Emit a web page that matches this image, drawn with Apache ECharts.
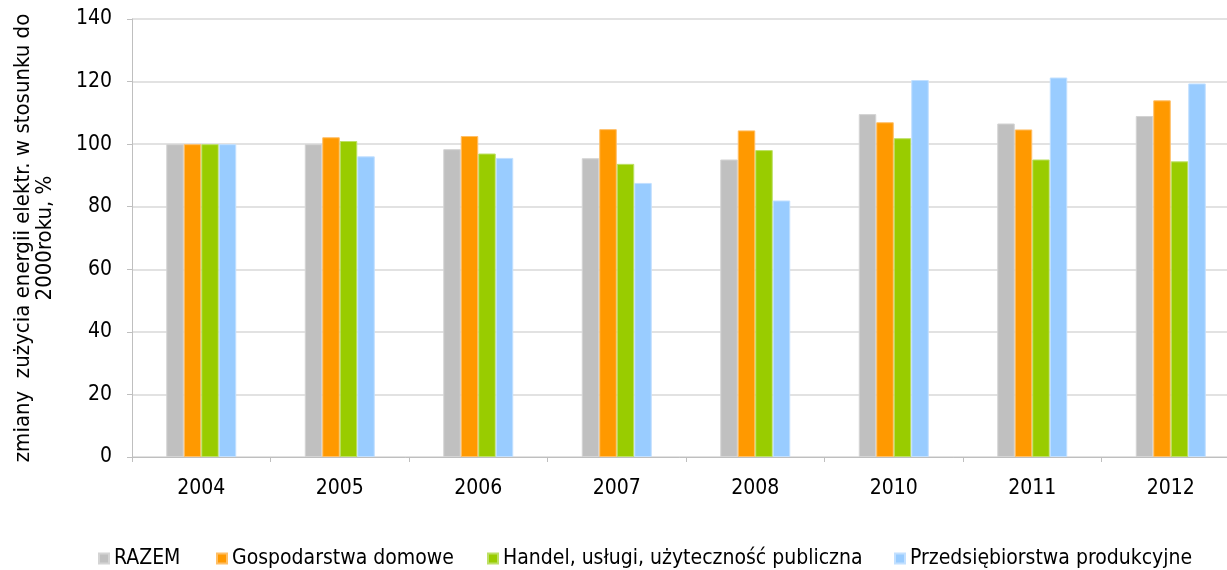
<!DOCTYPE html>
<html>
<head>
<meta charset="utf-8">
<script src="https://cdn.jsdelivr.net/npm/echarts@6/dist/echarts.min.js"></script>
<style>
html,body{margin:0;padding:0;background:#fff;}
#chart{width:1227px;height:570px;}
</style>
</head>
<body>
<div id="chart"></div>
<script>
const categories = ['2004','2005','2006','2007','2008','2010','2011','2012'];
const razem = [100, 100, 98.4, 95.5, 95.1, 109.6, 106.6, 109.0];
const gospodarstwa = [100, 102.2, 102.6, 104.8, 104.4, 107.0, 104.7, 114.0];
const handel = [100, 101.0, 97.0, 93.7, 98.1, 101.9, 95.1, 94.5];
const przedsiebiorstwa = [100, 96.1, 95.6, 87.6, 82.0, 120.5, 121.3, 119.4];
const seriesNames = ['RAZEM','Gospodarstwa domowe','Handel, usługi, użyteczność publiczna','Przedsiębiorstwa produkcyjne'];
const yTicks = [0,20,40,60,80,100,120,140];

const FONT = 'DejaVu Sans Condensed';
const colors = ['#c0c0c0','#ff9900','#99cc00','#99ccff'];
const borders = ['#d4d4d4','#ffbf66','#bde066','#c2e0ff'];
const dataSets = [razem, gospodarstwa, handel, przedsiebiorstwa];
const legendLefts = [98, 216, 487, 894];

const chart = echarts.init(document.getElementById('chart'));
chart.setOption({
  animation: false,
  color: colors,
  textStyle: {fontFamily: FONT},
  grid: {left: 132, right: -13, top: 19, bottom: 113, containLabel: false, outerBoundsMode: 'none'},
  legend: seriesNames.map((n, i) => ({
    left: legendLefts[i], top: 548, padding: 0,
    itemWidth: 10, itemHeight: 10,
    icon: 'rect',
    textStyle: {fontFamily: FONT, fontSize: 21, color: '#000'},
    data: [n]
  })),
  xAxis: {
    type: 'category',
    data: categories,
    axisLine: {lineStyle: {color: '#bfbfbf', width: 1}},
    axisTick: {show: true, length: 5, lineStyle: {color: '#bfbfbf'}},
    axisLabel: {fontFamily: FONT, fontSize: 21, color: '#000', margin: 21}
  },
  yAxis: {
    type: 'value',
    min: yTicks[0], max: yTicks[yTicks.length-1], interval: 20,
    name: 'zmiany  zużycia energii elektr. w stosunku do\n2000roku, %',
    nameLocation: 'middle',
    nameRotate: 90,
    nameGap: 76,
    nameTextStyle: {fontFamily: FONT, fontSize: 22, color: '#000', lineHeight: 22, align: 'center'},
    axisLine: {show: true, lineStyle: {color: '#bfbfbf', width: 1}},
    axisTick: {show: true, length: 5, lineStyle: {color: '#bfbfbf'}},
    axisLabel: {fontFamily: FONT, fontSize: 21, color: '#000', margin: 20},
    splitLine: {lineStyle: {color: '#d9d9d9', width: 1.5}}
  },
  series: seriesNames.map((n, i) => ({
    name: n,
    type: 'bar',
    data: dataSets[i],
    barWidth: 17.5,
    barGap: '0%',
    itemStyle: {color: colors[i], borderColor: borders[i], borderWidth: 1}
  }))
});
</script>
</body>
</html>
